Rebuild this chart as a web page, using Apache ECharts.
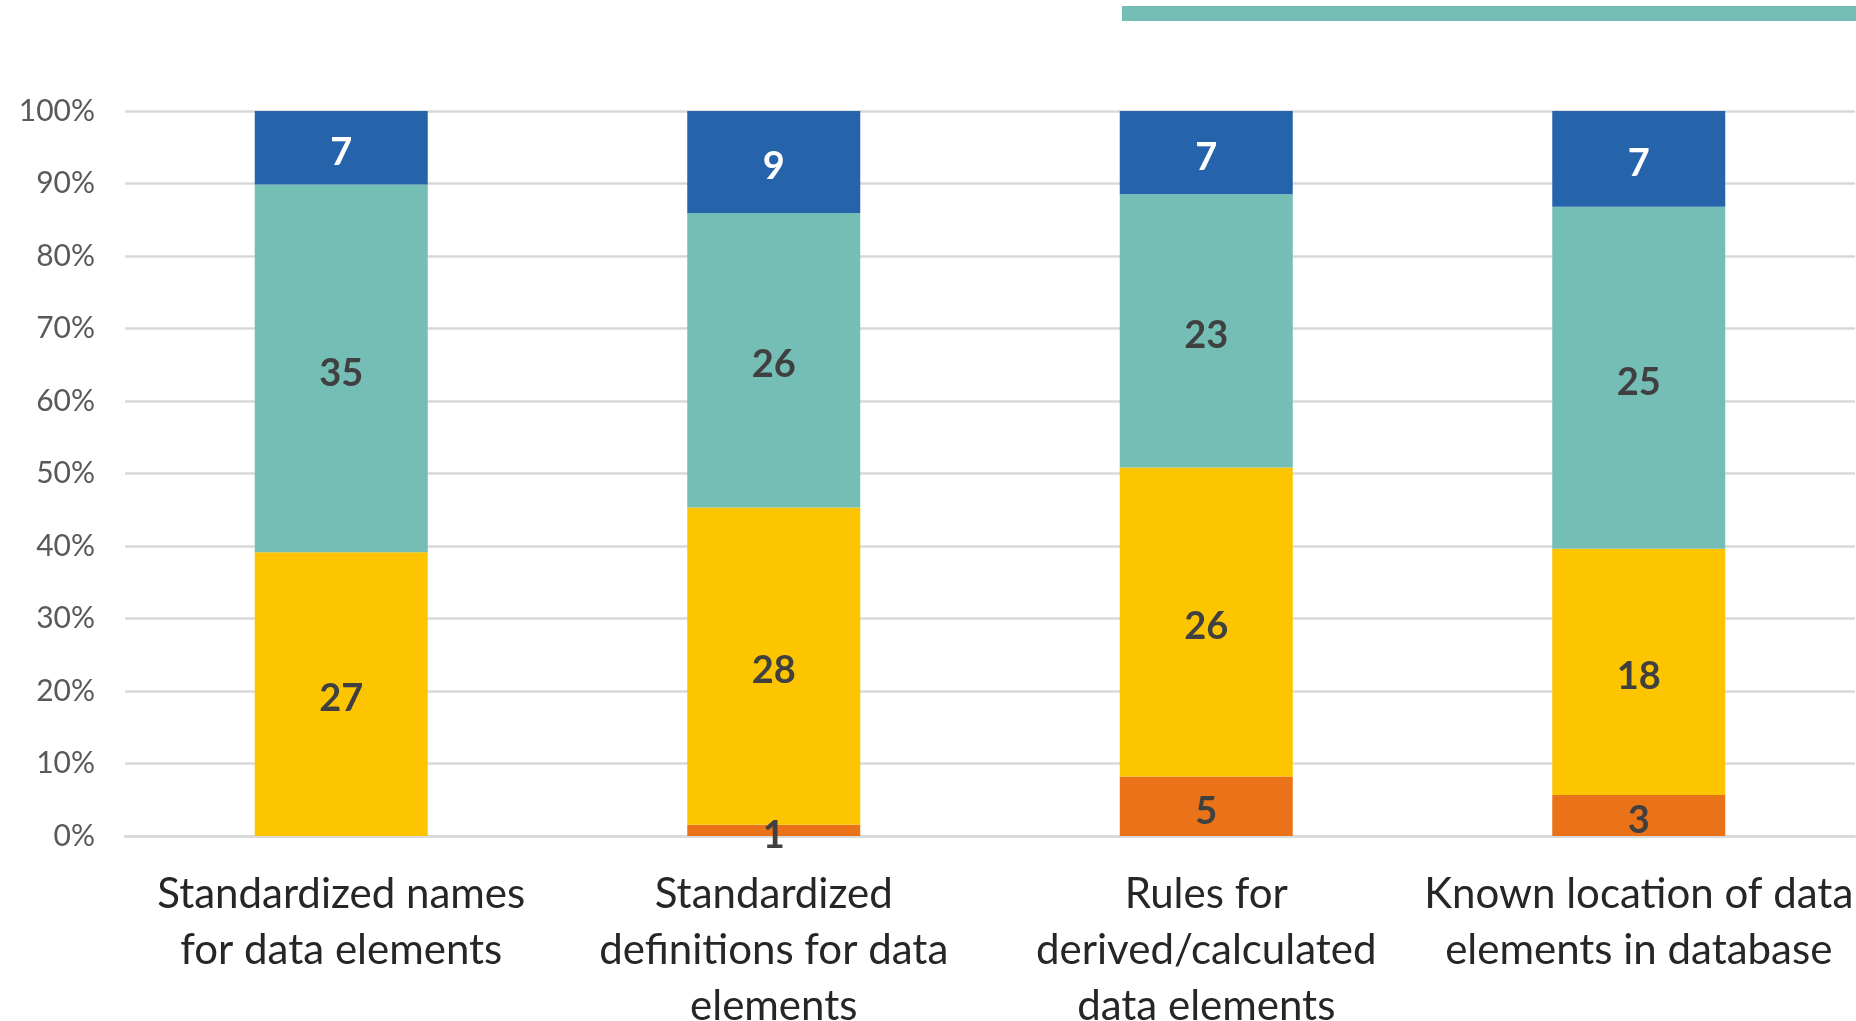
<!DOCTYPE html>
<html>
<head>
<meta charset="utf-8">
<script src="https://cdn.jsdelivr.net/npm/echarts@6/dist/echarts.min.js"></script>
<style>
  html, body { margin: 0; padding: 0; background: #fff; }
  #chart { width: 1856px; height: 1021px; }
</style>
</head>
<body>
<div id="chart"></div>
<script>
// categories (line breaks as in the original axis labels)
const categories = [
  'Standardized names\nfor data elements',
  'Standardized\ndefinitions for data\nelements',
  'Rules for\nderived/calculated\ndata elements',
  'Known location of data\nelements in database'
];
// counts per segment, bottom to top
const orangeCounts = [0, 1, 5, 3];
const yellowCounts = [27, 28, 26, 18];
const tealCounts = [35, 26, 23, 25];
const blueCounts = [7, 9, 7, 7];

const yTicks = [0, 10, 20, 30, 40, 50, 60, 70, 80, 90, 100];

const totals = categories.map((c, i) =>
  orangeCounts[i] + yellowCounts[i] + tealCounts[i] + blueCounts[i]);

function pct(counts) {
  return counts.map((v, i) => ({ value: v / totals[i] * 100, count: v }));
}

function seg(name, counts, color, labelColor) {
  return {
    name: name,
    type: 'bar',
    stack: 'all',
    barWidth: '40%',
    data: pct(counts),
    itemStyle: { color: color },
    label: {
      show: true,
      position: 'inside',
      offset: [0, 5],
      color: labelColor,
      fontFamily: 'Lato',
      fontWeight: 'bold',
      fontSize: 38,
      formatter: p => p.data.count ? String(p.data.count) : ''
    }
  };
}

let chart = echarts.init(document.getElementById('chart'));
let option = {
  backgroundColor: '#ffffff',
  animation: false,
  grid: { left: 125, right: 1, top: 111, bottom: 185, outerBoundsMode: 'none', containLabel: false },
  graphic: [{
    type: 'rect',
    shape: { x: 1122, y: 6, width: 734, height: 15 },
    style: { fill: '#74BEB6' }
  }],
  xAxis: {
    type: 'category',
    data: categories,
    axisLine: { lineStyle: { color: '#d9d9d9', width: 2.5 } },
    axisTick: { show: false },
    axisLabel: {
      color: '#262626',
      fontFamily: 'Lato',
      fontSize: 42,
      lineHeight: 56,
      margin: 30,
      interval: 0
    }
  },
  yAxis: {
    type: 'value',
    min: 0,
    max: 100,
    interval: 10,
    axisLine: { show: false },
    axisTick: { show: false },
    splitLine: { lineStyle: { color: '#d9d9d9', width: 2.5 } },
    axisLabel: {
      color: '#595959',
      fontFamily: 'Lato',
      fontSize: 30,
      margin: 30,
      formatter: v => yTicks.includes(v) ? v + '%' : ''
    }
  },
  series: [
    seg('orange', orangeCounts, '#EA7319', '#404040'),
    seg('yellow', yellowCounts, '#FDC500', '#404040'),
    seg('teal', tealCounts, '#74BEB6', '#404040'),
    seg('blue', blueCounts, '#2564AA', '#ffffff')
  ]
};
chart.setOption(option);
</script>
</body>
</html>
